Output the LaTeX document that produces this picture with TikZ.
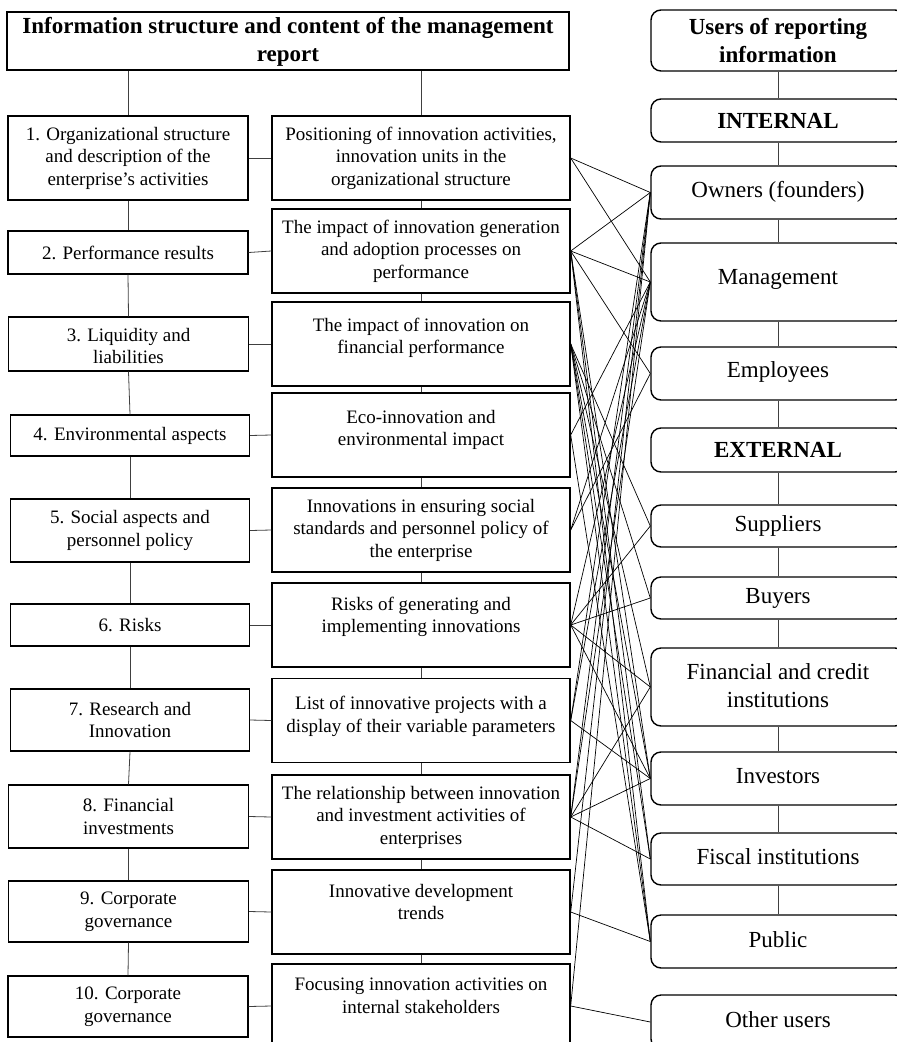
\documentclass[tikz,border=0pt]{standalone}
\usepackage{fontspec}
\setmainfont{Liberation Serif}
\begin{document}
\begin{tikzpicture}[x=1pt,y=-1pt,
  sq/.style={draw, line width=1.4pt, inner sep=0pt},
  rr/.style={draw, line width=1.4pt, inner sep=0pt, rounded corners=10pt},
  small/.style={align=center, inner sep=0pt, font=\fontsize{19}{22.5}\selectfont},
  big/.style={align=center, inner sep=0pt, font=\fontsize{23}{28}\selectfont},
  bigb/.style={align=center, inner sep=0pt, font=\fontsize{23}{28}\selectfont\bfseries},
  vline/.style={draw, line width=0.8pt, black!75},
  web/.style={draw, line width=0.7pt}]
\useasboundingbox (0,0) rectangle (897,1042);
% ---------- left title ----------
\node[sq, minimum width=562pt, minimum height=58pt] (lt) at (288,41) {};
\node[bigb] (ltt) at (288,42) {Information structure and content of the management\\report};
% ---------- left column ----------
\node[sq, minimum width=240pt, minimum height=84pt] (l1) at (128,158) {};
\node[sq, minimum width=240pt, minimum height=43pt] (l2) at (128,252.5) {};
\node[sq, minimum width=240pt, minimum height=54pt] (l3) at (128.5,344) {};
\node[sq, minimum width=239pt, minimum height=41pt] (l4) at (130,435.5) {};
\node[sq, minimum width=239pt, minimum height=63pt] (l5) at (130,530.5) {};
\node[sq, minimum width=239pt, minimum height=42pt] (l6) at (130,625) {};
\node[sq, minimum width=239pt, minimum height=62pt] (l7) at (130,720) {};
\node[sq, minimum width=240pt, minimum height=63pt] (l8) at (128.5,816.5) {};
\node[sq, minimum width=240pt, minimum height=61pt] (l9) at (128.5,911.5) {};
\node[sq, minimum width=240pt, minimum height=61pt] (l10) at (128,1006.5) {};
\node[small] (l1t) at (l1) {1. Organizational structure\\and description of the\\enterprise's activities};
\node[small] (l2t) at (l2) {2. Performance results};
\node[small] (l3t) at ([yshift=-2pt]l3.center) {3. Liquidity and\\liabilities};
\node[small] (l4t) at (l4) {4. Environmental aspects};
\node[small] (l5t) at (l5) {5. Social aspects and\\personnel policy};
\node[small] (l6t) at (l6) {6. Risks};
\node[small] (l7t) at (l7) {7. Research and\\Innovation};
\node[small] (l8t) at (l8) {8. Financial\\investments};
\node[small] (l9t) at (l9) {9. Corporate\\governance};
\node[small] (l10t) at (l10) {10. Corporate\\governance};
% ---------- middle column ----------
\node[sq, minimum width=298pt, minimum height=84pt] (m1) at (421,158) {};
\node[sq, minimum width=298pt, minimum height=84pt] (m2) at (421,251) {};
\node[sq, minimum width=298pt, minimum height=84pt] (m3) at (421,344) {};
\node[sq, minimum width=298pt, minimum height=84pt] (m4) at (421,435) {};
\node[sq, minimum width=298pt, minimum height=84pt] (m5) at (421,530) {};
\node[sq, minimum width=298pt, minimum height=84pt] (m6) at (421,625) {};
\node[sq, minimum width=298pt, minimum height=84pt] (m7) at (421,720.5) {};
\node[sq, minimum width=298pt, minimum height=84pt] (m8) at (421,817) {};
\node[sq, minimum width=298pt, minimum height=84pt] (m9) at (421,912) {};
\node[sq, minimum width=298pt, minimum height=84pt] (m10) at (421,1006) {};
\node[small] (m1t) at (m1) {Positioning of innovation activities,\\innovation units in the\\organizational structure};
\node[small] (m2t) at (m2) {The impact of innovation generation\\and adoption processes on\\performance};
\node[small] (m3t) at ([yshift=6pt]m3.center) {The impact of innovation on\\financial performance};
\node[small] (m4t) at ([yshift=5pt]m4.center) {Eco-innovation and\\environmental impact};
\node[small] (m5t) at (m5) {Innovations in ensuring social\\standards and personnel policy of\\the enterprise};
\node[small] (m6t) at ([yshift=8pt]m6.center) {Risks of generating and\\implementing innovations};
\node[small] (m7t) at ([yshift=4pt]m7.center) {List of innovative projects with a\\display of their variable parameters};
\node[small] (m8t) at (m8) {The relationship between innovation\\and investment activities of\\enterprises};
\node[small] (m9t) at ([yshift=10pt]m9.center) {Innovative development\\trends};
\node[small] (m10t) at ([yshift=10pt]m10.center) {Focusing innovation activities on\\internal stakeholders};
% ---------- right column ----------
\node[rr, minimum width=254pt, minimum height=61pt] (rt) at (778,40.5) {};
\node[rr, minimum width=254pt, minimum height=43pt] (rin) at (778,120.5) {};
\node[rr, minimum width=254pt, minimum height=53pt] (own) at (778,192.5) {};
\node[rr, minimum width=254pt, minimum height=78pt] (mgt) at (778,282) {};
\node[rr, minimum width=254pt, minimum height=53pt] (emp) at (778,373.5) {};
\node[rr, minimum width=254pt, minimum height=44pt] (rex) at (778,450) {};
\node[rr, minimum width=254pt, minimum height=42pt] (sup) at (778,526) {};
\node[rr, minimum width=254pt, minimum height=42pt] (buy) at (778,598) {};
\node[rr, minimum width=254pt, minimum height=78pt] (fin) at (778,687) {};
\node[rr, minimum width=254pt, minimum height=53pt] (inv) at (778,778.5) {};
\node[rr, minimum width=254pt, minimum height=52pt] (fis) at (778,859) {};
\node[rr, minimum width=254pt, minimum height=53pt] (pub) at (778,941.5) {};
\node[rr, minimum width=254pt, minimum height=54pt] (oth) at (778,1022) {};
\node[bigb] (rtt) at (778,41) {Users of reporting\\information};
\node[bigb] (rint) at (778,121) {INTERNAL};
\node[big] (ownt) at (778,192) {Owners (founders)};
\node[big] (mgtt) at (778,279) {Management};
\node[big] (empt) at (778,372) {Employees};
\node[bigb] (rext) at (778,450) {EXTERNAL};
\node[big] (supt) at (778,526) {Suppliers};
\node[big] (buyt) at (778,598) {Buyers};
\node[big] (fint) at (778,686) {Financial and credit\\institutions};
\node[big] (invt) at (778,776) {Investors};
\node[big] (fist) at (778,857) {Fiscal institutions};
\node[big] (pubt) at (778,940) {Public};
\node[big] (otht) at (778,1020) {Other users};
% ---------- tree connectors ----------
\draw[vline] (lt.south -| l1.north) -- (l1.north);
\draw[vline] (lt.south -| m1.north) -- (m1.north);
\foreach \a/\b in {l1/l2,l2/l3,l3/l4,l4/l5,l5/l6,l6/l7,l7/l8,l8/l9,l9/l10,
                   m1/m2,m2/m3,m3/m4,m4/m5,m5/m6,m6/m7,m7/m8,m8/m9,m9/m10,
                   rt/rin,rin/own,own/mgt,mgt/emp,emp/rex,rex/sup,sup/buy,buy/fin,fin/inv,inv/fis,fis/pub}
  \draw[vline] (\a.south) -- (\b.north);
\foreach \i in {1,...,10}
  \draw[vline] (l\i.east) -- (m\i.west);
% ---------- web ----------
\foreach \a/\b in {m1/own,m1/mgt,
  m2/own,m2/mgt,m2/emp,m2/inv,m2/fis,m2/pub,
  m3/sup,m3/buy,m3/fin,m3/inv,m3/fis,m3/pub,
  m4/mgt,m4/pub,
  m5/mgt,m5/emp,
  m6/mgt,m6/sup,m6/buy,m6/fin,m6/inv,
  m7/own,m7/mgt,m7/inv,
  m8/own,m8/mgt,m8/fin,m8/inv,m8/fis,
  m9/own,m9/pub,
  m10/own,m10/oth}
  \draw[web] (\a.east) -- (\b.west);
\end{tikzpicture}
\end{document}
